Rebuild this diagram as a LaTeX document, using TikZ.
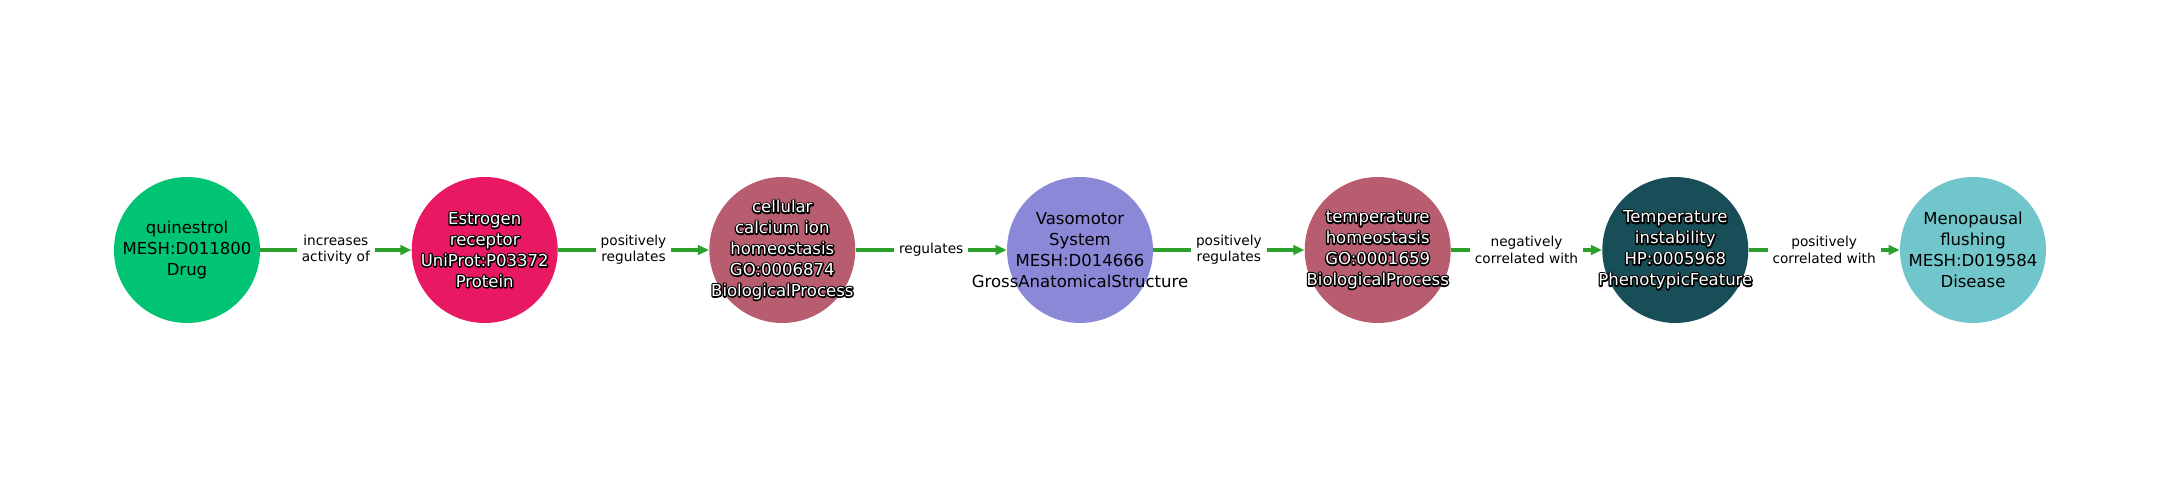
\documentclass[tikz,border=0pt]{standalone}
\usepackage{fontspec}
\setmainfont{DejaVu Sans}
\usetikzlibrary{arrows.meta}
\definecolor{cdrug}{RGB}{0,196,115}
\definecolor{cprot}{RGB}{232,25,98}
\definecolor{cproc}{RGB}{184,92,112}
\definecolor{canat}{RGB}{140,136,216}
\definecolor{cpheno}{RGB}{23,78,88}
\definecolor{cdis}{RGB}{112,198,202}
\definecolor{cedge}{RGB}{44,160,44}
\newcommand{\hl}[1]{\rlap{\color{black}\special{pdf:code 1 Tr 1.6 w 1 j}#1\special{pdf:code 0 Tr}}{\color{white}#1}}
\tikzset{
  ent/.style={circle, draw=none, minimum size=2.92cm, inner sep=0pt},
  ntext/.style={align=center, inner sep=0pt, font=\fontsize{9.4}{11.9}\selectfont},
  edge/.style={draw=cedge, line width=0.08cm, -{Triangle[length=0.22cm, width=0.19cm]}},
  lbl/.style={fill=white, align=center, inner xsep=0.1cm, inner ysep=0.04cm, font=\fontsize{7.8}{9.3}\selectfont, text=black}
}
\begin{document}
\begin{tikzpicture}[x=0.02cm, y=-0.02cm]
\useasboundingbox (0,0) rectangle (2160,500);
\node[ent, fill=cdrug]  (n1) at (187,250) {};
\node[ent, fill=cprot]  (n2) at (484.7,250) {};
\node[ent, fill=cproc]  (n3) at (782.3,250) {};
\node[ent, fill=canat]  (n4) at (1080,250) {};
\node[ent, fill=cproc]  (n5) at (1377.7,250) {};
\node[ent, fill=cpheno] (n6) at (1675.3,250) {};
\node[ent, fill=cdis]   (n7) at (1973,250) {};
\node[ntext] (t1) at (n1.center) {quinestrol\\MESH:D011800\\Drug};
\node[ntext] (t2) at (n2.center) {\hl{Estrogen}\\\hl{receptor}\\\hl{UniProt:P03372}\\\hl{Protein}};
\node[ntext] (t3) at (n3.center) {\hl{cellular}\\\hl{calcium ion}\\\hl{homeostasis}\\\hl{GO:0006874}\\\hl{BiologicalProcess}};
\node[ntext] (t4) at (n4.center) {Vasomotor\\System\\MESH:D014666\\GrossAnatomicalStructure};
\node[ntext] (t5) at (n5.center) {\hl{temperature}\\\hl{homeostasis}\\\hl{GO:0001659}\\\hl{BiologicalProcess}};
\node[ntext] (t6) at (n6.center) {\hl{Temperature}\\\hl{instability}\\\hl{HP:0005968}\\\hl{PhenotypicFeature}};
\node[ntext] (t7) at (n7.center) {Menopausal\\flushing\\MESH:D019584\\Disease};
\draw[edge] (n1) -- (n2) node[midway, lbl] (e1) {increases\\activity of};
\draw[edge] (n2) -- (n3) node[midway, lbl] (e2) {positively\\regulates};
\draw[edge] (n3) -- (n4) node[midway, lbl] (e3) {regulates};
\draw[edge] (n4) -- (n5) node[midway, lbl] (e4) {positively\\regulates};
\draw[edge] (n5) -- (n6) node[midway, lbl] (e5) {negatively\\correlated with};
\draw[edge] (n6) -- (n7) node[midway, lbl] (e6) {positively\\correlated with};
\end{tikzpicture}
\end{document}
